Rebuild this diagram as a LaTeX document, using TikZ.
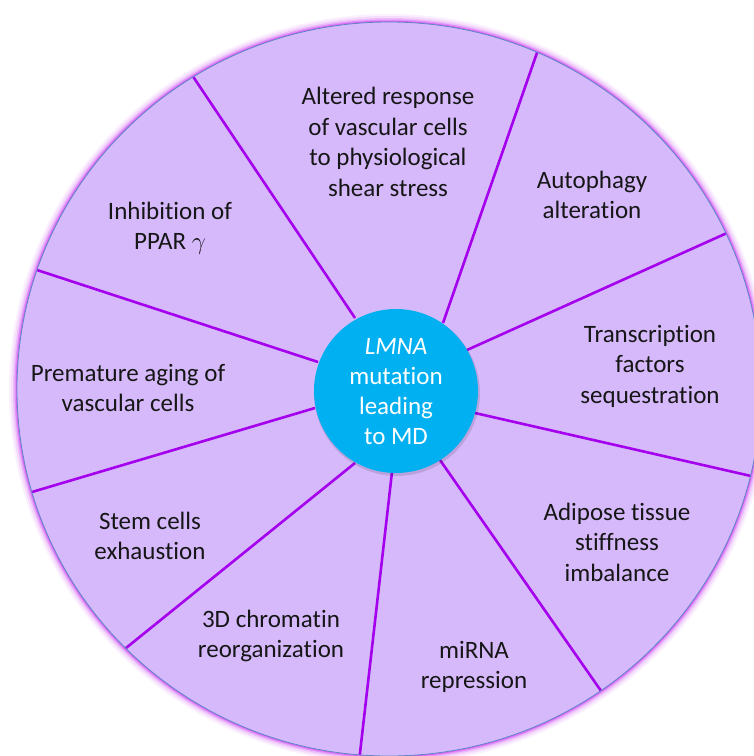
\documentclass[tikz,border=0pt]{standalone}
\usepackage{fontspec}
\setmainfont{Carlito}[RawFeature={-liga;-dlig;-clig}]
\definecolor{wheelfill}{RGB}{214,185,251}
\definecolor{spokecol}{RGB}{165,0,238}
\definecolor{glowcol}{RGB}{205,70,245}
\definecolor{rimcol}{RGB}{95,135,195}
\definecolor{hubcol}{RGB}{0,176,240}
\definecolor{txtcol}{RGB}{22,22,22}
\tikzset{
  label/.style={align=center, text=txtcol, font=\fontsize{25}{30.5}\selectfont, inner sep=0pt},
  hublabel/.style={align=center, text=white, font=\fontsize{25}{30}\selectfont, inner sep=0pt},
  spoke/.style={draw=spokecol, line width=2.6pt, shorten >=-8pt},
  hub/.style={circle, fill=hubcol, minimum size=164pt, inner sep=0pt},
}
\begin{document}
\begin{tikzpicture}[x=1pt,y=-1pt]
\useasboundingbox (0,0) rectangle (754,756);
\clip (0,0) rectangle (754,756);
\fill[white] (0,0) rectangle (754,756);
% glow around the wheel
\foreach \w/\o in {16/0.08,12/0.12,8/0.2,5/0.35,2.5/0.6}{
  \draw[glowcol, line width=\w pt, opacity=\o] (389,389) ellipse [x radius=372, y radius=367];
}
\fill[wheelfill] (389,389) ellipse [x radius=372, y radius=367];
% spokes
\coordinate (i1) at (355,318); \coordinate (o1) at (192,75);
\coordinate (i2) at (443,323); \coordinate (o2) at (539,47);
\coordinate (i3) at (467,350); \coordinate (o3) at (727,233);
\coordinate (i4) at (475,413); \coordinate (o4) at (751,476);
\coordinate (i5) at (440,460); \coordinate (o5) at (599,688);
\coordinate (i6) at (392,472); \coordinate (o6) at (360,753);
\coordinate (i7) at (355,463); \coordinate (o7) at (126,648);
\coordinate (i8) at (315,408); \coordinate (o8) at (32,492);
\coordinate (i9) at (318,362); \coordinate (o9) at (37,270);
\begin{scope}
\clip (389,389) ellipse [x radius=372, y radius=367];
\foreach \k in {1,...,9}{
  \draw[spoke] (i\k) -- (o\k);
}
\end{scope}
\draw[rimcol, line width=0.8pt] (389,389) ellipse [x radius=372, y radius=367];
% hub
\fill[black, opacity=0.12] (397,393) circle [radius=83];
\node[hub] (hub) at (396,391) {};
\node[hublabel] (hubtext) at (396,392) {\textit{LMNA}\\mutation\\leading\\to MD};
% labels
\node[label] (alt) at (388,142) {Altered response\\of vascular cells\\to physiological\\shear stress};
\node[label] (auto) at (592,195) {Autophagy\\alteration};
\node[label] (inh) at (170,228) {Inhibition of\\PPAR $\gamma$};
\node[label] (trans) at (650,366) {Transcription\\factors\\sequestration};
\node[label] (prem) at (128,388) {Premature aging of\\vascular cells};
\node[label] (adip) at (617,542) {Adipose tissue\\stiffness\\imbalance};
\node[label] (stem) at (150,536) {Stem cells\\exhaustion};
\node[label] (chrom) at (271,636) {3D chromatin\\reorganization};
\node[label] (mirna) at (474,667) {miRNA\\repression};
\end{tikzpicture}
\end{document}
